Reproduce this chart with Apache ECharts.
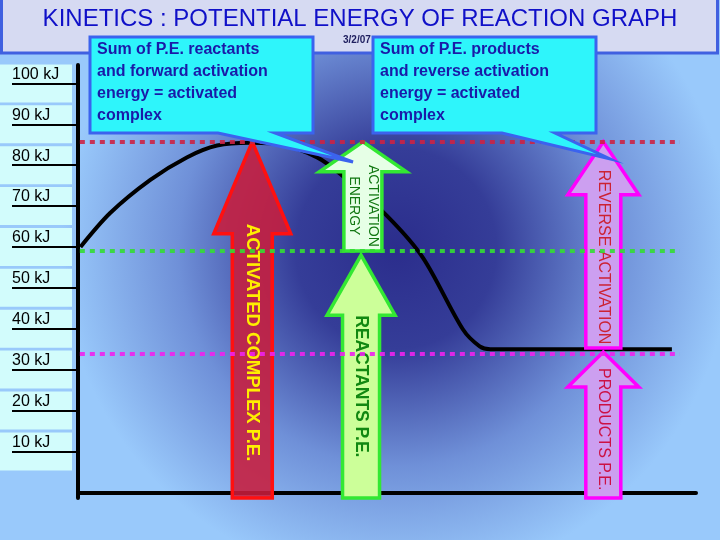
<!DOCTYPE html>
<html lang="en">
<head>
    <meta charset="UTF-8">
    <title>Kinetics - Potential Energy of Reaction Graph</title>
    <script src="https://cdn.jsdelivr.net/npm/echarts@6.0.0/dist/echarts.min.js"></script>
    <style>
        body, html { margin: 0; padding: 0; width: 100%; height: 100%; }
        #chart { width: 720px; height: 540px; }
    </style>
</head>
<body>
<div id="chart"></div>
<script>
    // y axis tick values (kJ)
    var tickValues = [10, 20, 30, 40, 50, 60, 70, 80, 90, 100];

    // reaction path (x = progress, y = potential energy kJ)
    var curveX = [0.4, 5.2, 11.7, 17.6, 22.5, 27.8, 33.2, 38.7, 42.4, 50, 55.8, 62.3, 65, 66.7, 96.1];
    var curveY = [60, 68.3, 76.4, 81.9, 84.8, 85.5, 85, 81.9, 77.9, 67.6, 57.4, 39.8, 35.7, 35, 35];

    // reference dotted levels
    var levelNames = ['activated complex', 'reactants', 'products'];
    var levelValues = [85.7, 59, 34];
    var levelFrom = 0.3;
    var levelTo = 97.4;

    // arrows: x position, start energy, end energy, text
    var arrowLabels = ['ACTIVATED COMPLEX P.E.', 'REACTANTS P.E.', 'ACTIVATION\nENERGY', 'REVERSE ACTIVATION', 'PRODUCTS P.E.'];
    var arrowX = [28.2, 45.8, 46.1, 85, 85];
    var arrowFrom = [-1.4, -1.4, 59, 35.3, -1.4];
    var arrowTo = [85.7, 58, 85.7, 85.7, 34.3];

    var yMin = -1.4, yMax = 104.5;

    // drawing styles for each arrow (pixels)
    var arrowStyle = [
        {shaft: 40, headW: 77, head: 92, fill: 'rgba(200,28,60,0.88)', stroke: '#ff1010', color: '#ffee00', font: 'bold 18.5px "Liberation Sans"', off: -10, align: 'left'},
        {shaft: 37, headW: 68, head: 60, fill: '#ccff99', stroke: '#33e833', color: '#118811', font: 'bold 17.5px "Liberation Sans"', off: 0, align: 'left'},
        {shaft: 38, headW: 87, head: 30, fill: '#e6ffe6', stroke: '#33e833', color: '#117711', font: '14px "Liberation Sans"', off: 34, align: 'center'},
        {shaft: 35, headW: 71, head: 53, fill: '#cc9ff0', stroke: '#ff00ff', color: '#cc2233', font: '16px "Liberation Sans"', off: -25, align: 'left'},
        {shaft: 35, headW: 71, head: 35, fill: '#cc9ff0', stroke: '#ff00ff', color: '#cc1144', font: '16px "Liberation Sans"', off: -19, align: 'left'}
    ];
    var levelColors = ['#cc2244', '#33dd33', '#ee22ee'];

    var chart = echarts.init(document.getElementById('chart'));

    var arrowData = arrowX.map(function (x, i) { return [x, arrowFrom[i], arrowTo[i]]; });

    function renderArrow(params, api) {
        var i = params.dataIndex;
        var s = arrowStyle[i];
        var base = api.coord([api.value(0), api.value(1)]);
        var tip = api.coord([api.value(0), api.value(2)]);
        var cx = base[0];
        var hb = tip[1] + s.head;
        var pts = [
            [cx - s.shaft / 2, base[1]], [cx - s.shaft / 2, hb], [cx - s.headW / 2, hb],
            [cx, tip[1]], [cx + s.headW / 2, hb], [cx + s.shaft / 2, hb], [cx + s.shaft / 2, base[1]]
        ];
        return {
            type: 'group',
            children: [
                {type: 'polygon', shape: {points: pts}, style: {fill: s.fill, stroke: s.stroke, lineWidth: 3.5, lineJoin: 'miter'}},
                {type: 'text', x: cx, y: hb + s.off, rotation: -Math.PI / 2,
                    style: {text: arrowLabels[i], fill: s.color, font: s.font, align: s.align, verticalAlign: 'middle', lineHeight: 19}}
            ]
        };
    }

    var option = {
        animation: false,
        graphic: [
            {type: 'rect', z: -10, shape: {x: 0, y: 0, width: 720, height: 540},
                style: {fill: {type: 'radial', x: 0.55, y: 0.46, r: 0.62, colorStops: [
                    {offset: 0, color: '#2b2d8c'}, {offset: 0.3, color: '#353d98'},
                    {offset: 0.65, color: '#6f90d8'}, {offset: 1, color: '#99c9fb'}]}}},
            {type: 'rect', z: 10, shape: {x: 1.5, y: -3, width: 716, height: 56},
                style: {fill: '#d6daf2', stroke: '#4060e0', lineWidth: 3}},
            {type: 'text', z: 11, x: 360, y: 19,
                style: {text: 'KINETICS : POTENTIAL ENERGY OF REACTION GRAPH', font: '24px "Liberation Sans"', fill: '#1010c8', align: 'center', verticalAlign: 'middle'}},
            {type: 'text', z: 11, x: 343, y: 40,
                style: {text: '3/2/07', font: 'bold 10px "Liberation Sans"', fill: '#202060', verticalAlign: 'middle'}},
            {type: 'polygon', z: 12,
                shape: {points: [[90, 37], [313, 37], [313, 133], [275, 133], [353, 162], [218, 133], [90, 133]]},
                style: {fill: '#2ef5fb', stroke: '#3b63ee', lineWidth: 3}},
            {type: 'text', z: 13, x: 97, y: 39,
                style: {text: 'Sum of P.E. reactants\nand forward activation\nenergy = activated\ncomplex', font: 'bold 16px "Liberation Sans"', fill: '#1a1aa8', lineHeight: 22, verticalAlign: 'top'}},
            {type: 'polygon', z: 12,
                shape: {points: [[373, 37], [596, 37], [596, 133], [555, 133], [610, 159], [502, 133], [373, 133]]},
                style: {fill: '#2ef5fb', stroke: '#3b63ee', lineWidth: 3}},
            {type: 'text', z: 13, x: 380, y: 39,
                style: {text: 'Sum of P.E. products\nand reverse activation\nenergy = activated\ncomplex', font: 'bold 16px "Liberation Sans"', fill: '#1a1aa8', lineHeight: 22, verticalAlign: 'top'}}
        ],
        grid: {left: 78, right: 24, top: 65, bottom: 42, outerBoundsMode: 'none'},
        xAxis: {
            type: 'value', min: 0, max: 100,
            axisLine: {show: true, lineStyle: {color: '#000', width: 4}},
            axisTick: {show: false}, axisLabel: {show: false}, splitLine: {show: false}
        },
        yAxis: [
            {
                type: 'value', position: 'left', min: yMin, max: yMax, z: 1,
                axisLine: {show: false}, axisTick: {show: false}, splitLine: {show: false},
                axisLabel: {
                    customValues: tickValues, margin: 78, align: 'left',
                    backgroundColor: '#d2fcfc', width: 60, padding: [0, 0, 0, 12],
                    formatter: function (v) { return '{t|' + v + ' kJ}\n{s| }'; },
                    rich: {
                        t: {fontSize: 16, lineHeight: 20, color: '#000', fontFamily: 'Liberation Sans'},
                        s: {fontSize: 10, lineHeight: 18}
                    }
                }
            },
            {
                type: 'value', position: 'left', offset: 0, min: yMin, max: yMax, z: 3,
                axisLine: {show: true, lineStyle: {color: '#000', width: 4}},
                axisTick: {show: true, customValues: tickValues, length: 66, lineStyle: {color: '#000', width: 2}},
                axisLabel: {show: false}, splitLine: {show: false}
            }
        ],
        series: [
            {
                name: 'reaction path', type: 'line', z: 2,
                data: curveX.map(function (x, i) { return [x, curveY[i]]; }),
                smooth: 0.3, showSymbol: false,
                lineStyle: {color: '#000', width: 4}
            },
            {
                name: 'arrows', type: 'custom', z: 3,
                data: arrowData, renderItem: renderArrow,
                encode: {x: 0, y: [1, 2]}
            },
            {
                name: 'levels', type: 'line', z: 4, data: [],
                markLine: {
                    symbol: 'none', silent: true, label: {show: false},
                    data: levelValues.map(function (v, i) {
                        return [
                            {name: levelNames[i], coord: [levelFrom, v], lineStyle: {color: levelColors[i], width: 4, type: [5, 5], opacity: 0.9}},
                            {coord: [levelTo, v]}
                        ];
                    })
                }
            }
        ]
    };

    chart.setOption(option);
</script>
</body>
</html>
